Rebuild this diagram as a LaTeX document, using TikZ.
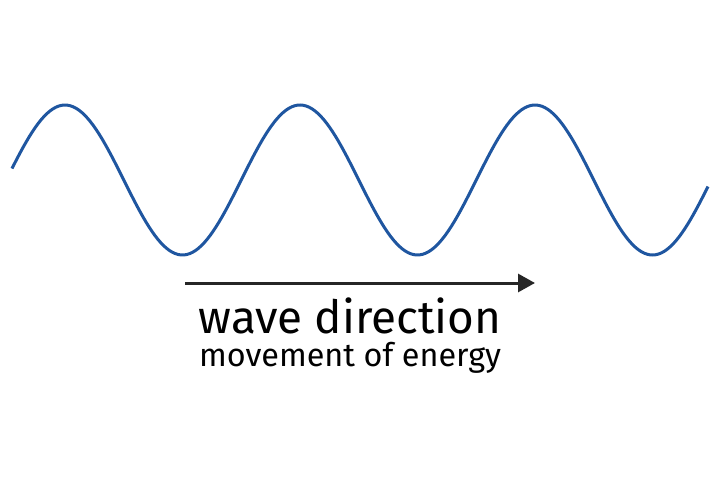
\documentclass[tikz,border=0pt]{standalone}
\usepackage{fontspec}
\setmainfont{Fira Sans}
\usetikzlibrary{arrows.meta}

\definecolor{waveblue}{HTML}{1F56A0}
\tikzstyle{wave} = [draw=waveblue,line width=3bp]
\tikzstyle{motion} = [draw=black!85,line width=3bp,-{Triangle[length=17bp,width=18bp]}]
\tikzstyle{title} = [anchor=base,inner sep=0pt,font=\fontsize{46}{46}\selectfont]
\tikzstyle{subtitle} = [anchor=base,inner sep=0pt,font=\fontsize{32.5}{32.5}\selectfont]

\begin{document}
\begin{tikzpicture}[x=1bp,y=-1bp]
    \useasboundingbox (0,0) rectangle (720,480);

    % one period is 235 units wide
    \draw [style=wave] plot [domain=12:708, samples=240] (\x, {180-75*cos(1.53191*(\x-65))});

    \coordinate (from) at (185, 283);
    \coordinate (to) at (535, 283);
    \draw [style=motion] (from) -- (to);

    \node [style=title] (direction) at (350, 333) {wave direction};
    \node [style=subtitle] (energy) at (350, 366) {movement of energy};
\end{tikzpicture}
\end{document}
